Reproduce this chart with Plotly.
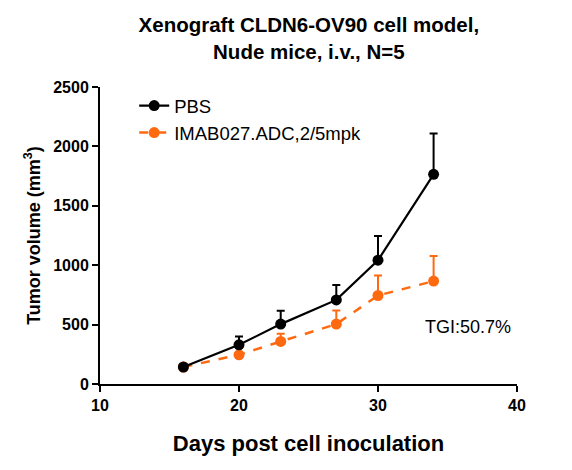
import plotly.graph_objects as go

days = [16, 20, 23, 27, 30, 34]

pbs_mean = [143, 330, 504, 708, 1042, 1765]
pbs_err = [0, 70, 112, 126, 204, 344]

adc_mean = [143, 246, 358, 504, 745, 866]
adc_err = [0, 15, 65, 115, 168, 212]

black = "#000000"
orange = "#FF6A10"
font = "Liberation Sans, Arial, sans-serif"

fig = go.Figure()

fig.add_trace(go.Scatter(
    x=days, y=adc_mean, name="IMAB027.ADC,2/5mpk",
    mode="lines+markers",
    line=dict(color=orange, width=2.5, dash="dash"),
    marker=dict(color=orange, size=11),
    error_y=dict(type="data", array=adc_err, arrayminus=[0] * len(days),
                 symmetric=False, color=orange, thickness=2, width=4),
))

fig.add_trace(go.Scatter(
    x=days, y=pbs_mean, name="PBS",
    mode="lines+markers",
    line=dict(color=black, width=2.2),
    marker=dict(color=black, size=11),
    error_y=dict(type="data", array=pbs_err, arrayminus=[0] * len(days),
                 symmetric=False, color=black, thickness=2, width=4),
))

fig.add_annotation(
    x=36.5, y=479, text="TGI:50.7%", showarrow=False,
    xanchor="center", yanchor="middle",
    font=dict(family=font, size=18, color=black),
)

# page has an 8px body margin, so margins are trimmed by 8 on left/top
fig.update_layout(
    width=572, height=470,
    paper_bgcolor="white", plot_bgcolor="white",
    margin=dict(l=92, r=63, t=79, b=94),
    title=dict(
        text="<b>Xenograft CLDN6-OV90 cell model,<br>Nude mice, i.v., N=5</b>",
        x=0.526, xanchor="center", y=0.948, yanchor="top",
        font=dict(family=font, size=20.5, color=black),
    ),
    legend=dict(
        x=0.082, y=1.0, xanchor="left", yanchor="top",
        traceorder="reversed",
        font=dict(family=font, size=18.5, color=black),
        bgcolor="rgba(0,0,0,0)", itemwidth=30,
    ),
    showlegend=True,
)

fig.update_xaxes(
    range=[10, 40], tickvals=[10, 20, 30, 40],
    showline=True, linecolor=black, linewidth=2,
    ticks="outside", ticklen=6, tickwidth=2, tickcolor=black,
    showgrid=False, zeroline=False,
    tickfont=dict(family=font, size=16, color=black, weight="bold"),
    title=dict(text="<b>Days post cell inoculation</b>", standoff=22,
               font=dict(family=font, size=22, color=black)),
)

fig.update_yaxes(
    range=[0, 2500], tickvals=[0, 500, 1000, 1500, 2000, 2500],
    showline=True, linecolor=black, linewidth=2,
    ticks="outside", ticklen=6, tickwidth=2, tickcolor=black,
    showgrid=False, zeroline=False,
    tickfont=dict(family=font, size=16, color=black, weight="bold"),
    title=dict(text="<b>Tumor volume (mm<sup>3</sup>)</b>", standoff=8,
               font=dict(family=font, size=18, color=black)),
)

fig.write_html("out.html")
